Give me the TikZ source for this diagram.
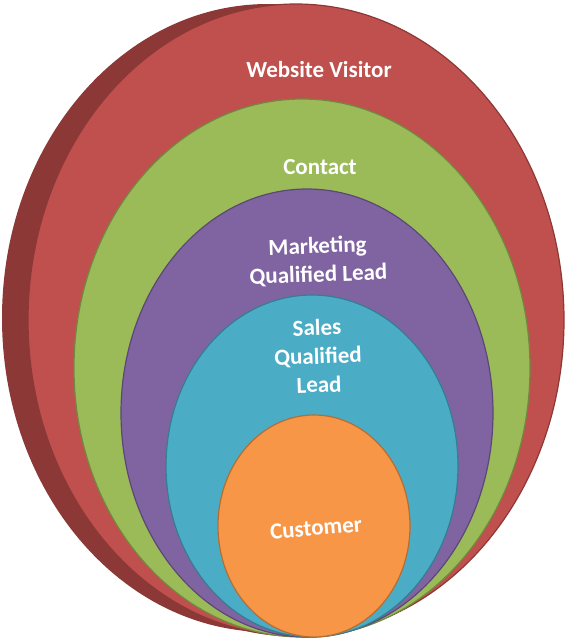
\documentclass[tikz,border=0pt]{standalone}
\usepackage{fontspec}
\setmainfont{Carlito}
\definecolor{wvfill}{HTML}{C0504D}
\definecolor{wvside}{HTML}{8C3836}
\definecolor{ctfill}{HTML}{9BBB59}
\definecolor{ctline}{HTML}{71893F}
\definecolor{mqfill}{HTML}{8064A2}
\definecolor{mqline}{HTML}{5C4776}
\definecolor{sqfill}{HTML}{4BACC6}
\definecolor{sqline}{HTML}{357D91}
\definecolor{cufill}{HTML}{F79646}
\definecolor{culine}{HTML}{B66D31}

\begin{document}
\begin{tikzpicture}[x=1pt, y=-1pt,
every node/.style={%
    text=white, align=center, inner sep=1pt,
    font=\bfseries\fontsize{23}{28.5}\selectfont
    },
ring/.style={line width=1.2pt}
]
\useasboundingbox (0,0) rectangle (570,640);

% side of the disc
\fill[wvside] (268,318) ellipse [x radius=266pt, y radius=314pt];

\foreach \cx/\cy/\rx/\ry/\fc/\dc in {
                  296/320/268/316/wvfill/wvside,%
                  302/368/228/269/ctfill/ctline,%
                  307/413/186/224/mqfill/mqline,%
                  312/466/146/171/sqfill/sqline,%
                  314/526/96/111/cufill/culine%
            }
    \filldraw [ring, fill=\fc, draw=\dc] (\cx,\cy) ellipse [x radius=\rx pt, y radius=\ry pt];

\node (visitor) at (319,70) {Website Visitor};
\node (contact) at (320,167) {Contact};
\node[rotate=2] (mql) at (318,261) {Marketing\\Qualified Lead};
\node[rotate=2] (sql) at (318,356) {Sales\\Qualified\\Lead};
\node[rotate=5] (customer) at (316,528) {Customer};

\end{tikzpicture}
\end{document}
